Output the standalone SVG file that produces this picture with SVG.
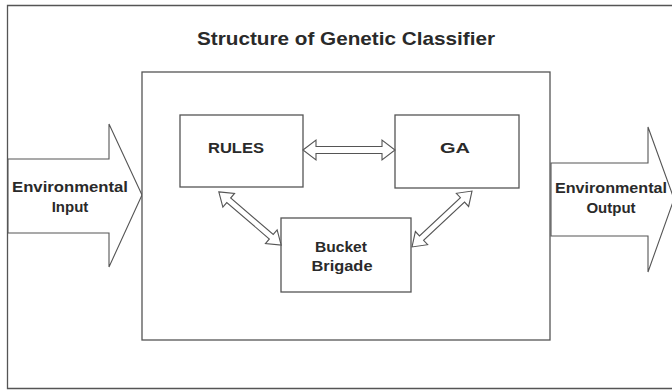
<svg xmlns="http://www.w3.org/2000/svg" width="672" height="391" viewBox="0 0 672 391">
<style>
.ln{fill:none;stroke:#555;stroke-width:1.3}
.box{fill:#fff;stroke:#555;stroke-width:1.3}
.arr{fill:#fff;stroke:#555;stroke-width:1.1;stroke-linejoin:miter}
.t{font-family:"Liberation Sans",Arial,sans-serif;font-weight:bold;fill:#2a2a2a;text-anchor:middle}
</style>
<rect width="672" height="391" fill="#fff"/>
<g id="frame">
<path class="ln" d="M672,5.5 H7.5 V388.5 H672" stroke-width="1.6"/>
</g>
<g id="title">
<text class="t" x="346" y="45" font-size="19" textLength="298" lengthAdjust="spacingAndGlyphs">Structure of Genetic Classifier</text>
</g>
<g id="input">
<polygon class="arr" points="8,159 109,159 109,124 142,195 109,267 109,233 8,233"/>
<text class="t" x="70" y="192" font-size="15" textLength="116" lengthAdjust="spacingAndGlyphs">Environmental</text>
<text class="t" x="70" y="212" font-size="15">Input</text>
</g>
<g id="classifier">
<rect class="box" x="142" y="72" width="408" height="268"/>
</g>
<g id="output">
<polygon class="arr" points="551,163 648,163 648,127 674,199 648,272 648,236 551,236"/>
<text class="t" x="611" y="193" font-size="15" textLength="112" lengthAdjust="spacingAndGlyphs">Environmental</text>
<text class="t" x="611" y="213" font-size="15">Output</text>
</g>
<g id="rules">
<rect class="box" x="180" y="115" width="123" height="72"/>
<text class="t" x="236" y="153" font-size="15" textLength="56" lengthAdjust="spacingAndGlyphs">RULES</text>
</g>
<g id="ga">
<rect class="box" x="395" y="115" width="124" height="73"/>
<text class="t" x="455" y="153" font-size="15" textLength="30" lengthAdjust="spacingAndGlyphs">GA</text>
</g>
<g id="bucket">
<rect class="box" x="281" y="218" width="130" height="74"/>
<text class="t" x="341" y="252" font-size="15" textLength="52" lengthAdjust="spacingAndGlyphs">Bucket</text>
<text class="t" x="342" y="271" font-size="15" textLength="61" lengthAdjust="spacingAndGlyphs">Brigade</text>
</g>
<g id="connectors">
<polygon class="arr" transform="translate(349,150)" points="-46,0 -33,-10 -33,-3.5 33,-3.5 33,-10 46,0 33,10 33,3.5 -33,3.5 -33,10"/>
<polygon class="arr" transform="translate(250,218.5) rotate(40.5)" points="-41,0 -28,-9 -28,-3 28,-3 28,-9 41,0 28,9 28,3 -28,3 -28,9"/>
<polygon class="arr" transform="translate(442,219) rotate(-43)" points="-41,0 -28,-9 -28,-3 28,-3 28,-9 41,0 28,9 28,3 -28,3 -28,9"/>
</g>
</svg>
